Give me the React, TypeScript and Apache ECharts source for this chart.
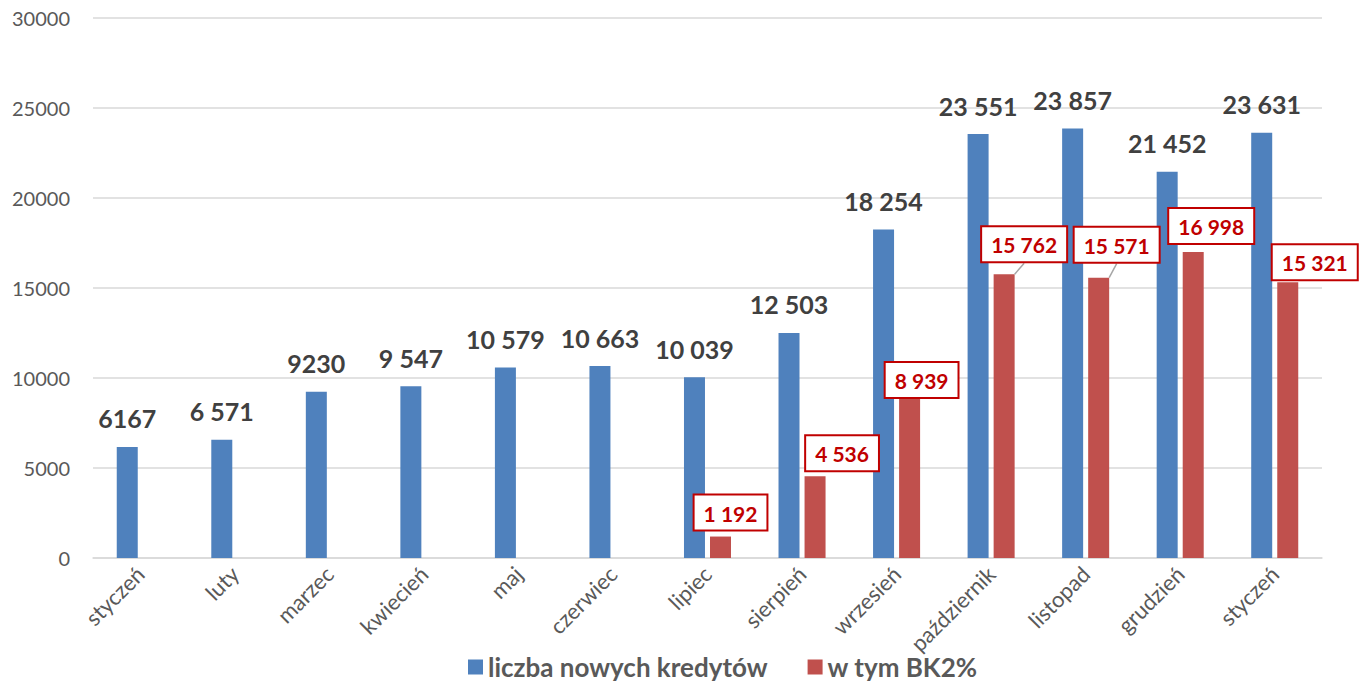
import React, { useEffect, useRef } from "react";
import * as echarts from "echarts";

const categories = [
  "styczeń", "luty", "marzec", "kwiecień", "maj", "czerwiec", "lipiec",
  "sierpień", "wrzesień", "październik", "listopad", "grudzień", "styczeń",
];
const newLoans = [6167, 6571, 9230, 9547, 10579, 10663, 10039, 12503, 18254, 23551, 23857, 21452, 23631];
const newLoanLabels = ["6167", "6 571", "9230", "9 547", "10 579", "10 663", "10 039", "12 503", "18 254", "23 551", "23 857", "21 452", "23 631"];
const bk2: (number | null)[] = [null, null, null, null, null, null, 1192, 4536, 8939, 15762, 15571, 16998, 15321];
const bk2Labels = ["", "", "", "", "", "", "1 192", "4 536", "8 939", "15 762", "15 571", "16 998", "15 321"];
const bk2LabelDx = [0, 0, 0, 0, 0, 0, 10, 27, 12, 20, 18, 18, 27];
const bk2LabelDy = [0, 0, 0, 0, 0, 0, -7, -6, 0, -13, -16, -9, -3];
const bk2Leader = [false, false, false, false, false, false, false, false, false, true, true, false, false];
const seriesNames = ["liczba nowych kredytów", "w tym BK2%"];

export default function App() {
  const ref = useRef<HTMLDivElement>(null);
  useEffect(() => {
    if (!ref.current) return;
    const chart = echarts.init(ref.current, null, { renderer: "svg" });
    const font = "Lato, 'Open Sans', sans-serif";
    chart.setOption({
      animation: false,
      textStyle: { fontFamily: font },
      grid: { left: 93, right: 37, top: 18, bottom: 128, containLabel: false },
      legend: {
        left: 463,
        top: 649,
        itemWidth: 15,
        itemHeight: 15,
        itemGap: 40,
        icon: "rect",
        textStyle: { fontSize: 26, fontWeight: "bold", color: "#595959", fontFamily: font },
        data: seriesNames,
      },
      xAxis: {
        type: "category",
        data: categories,
        axisLine: { show: true, lineStyle: { color: "#d9d9d9", width: 1.5 } },
        axisTick: { show: false },
        axisLabel: { rotate: 45, fontSize: 22, color: "#595959", margin: 12, interval: 0, fontFamily: font },
      },
      yAxis: {
        type: "value",
        min: 0,
        max: 30000,
        interval: 5000,
        axisLine: { show: false },
        axisTick: { show: false },
        axisLabel: {
          fontSize: 20,
          color: "#595959",
          margin: 23,
          fontFamily: font,
          formatter: (v: number) => String(v),
        },
        splitLine: { lineStyle: { color: "#d9d9d9", width: 1.5 } },
      },
      series: [
        {
          name: seriesNames[0],
          type: "bar",
          barWidth: 21,
          barGap: "24%",
          itemStyle: { color: "#4F81BD" },
          label: {
            show: true,
            position: "top",
            distance: 16,
            fontSize: 25,
            fontWeight: "bold",
            color: "#404040",
            fontFamily: font,
            formatter: (p: any) => newLoanLabels[p.dataIndex],
          },
          data: newLoans,
        },
        {
          name: seriesNames[1],
          type: "bar",
          barWidth: 21,
          itemStyle: { color: "#C0504D" },
          label: {
            show: true,
            position: "top",
            distance: 0,
            fontSize: 21,
            fontWeight: "bold",
            color: "#C00000",
            fontFamily: font,
            backgroundColor: "#ffffff",
            borderColor: "#C00000",
            borderWidth: 2,
            padding: [7, 9, 6, 9],
            formatter: (p: any) => bk2Labels[p.dataIndex],
          },
          labelLayout: (p: any) => ({ dx: bk2LabelDx[p.dataIndex], dy: bk2LabelDy[p.dataIndex] }),
          data: bk2.map((v, i) => ({
            value: v === null ? "-" : v,
            labelLine: { show: bk2Leader[i], lineStyle: { color: "#a6a6a6", width: 1.5 } },
          })),
        },
      ],
    });
    return () => chart.dispose();
  }, []);
  return (
    <div
      ref={ref}
      style={{ position: "fixed", left: 0, top: 0, width: 1359, height: 686, background: "#fff" }}
    />
  );
}
